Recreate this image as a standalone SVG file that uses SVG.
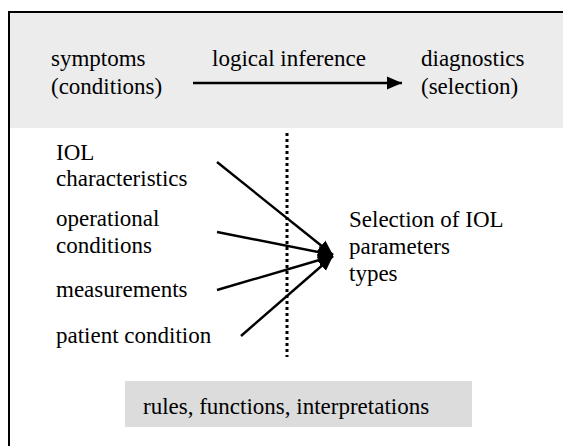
<svg xmlns="http://www.w3.org/2000/svg" width="563" height="446" viewBox="0 0 563 446">
<style>
text{font-family:"Liberation Serif","Times New Roman",serif;font-size:23px;fill:#000}
.ln{stroke:#000;stroke-width:2.4;fill:none}
</style>
<defs>
<marker id="ah" markerUnits="userSpaceOnUse" markerWidth="16" markerHeight="14" refX="15" refY="7" orient="auto">
<path d="M0,0.5 L15,7 L0,13.5 Z" fill="#000"/>
</marker>
</defs>
<rect x="0" y="0" width="563" height="446" fill="#fff"/>
<g id="frame">
<rect x="9" y="12" width="554" height="116" fill="#ececec"/>
<path d="M9,447 V12 H563" stroke="#000" stroke-width="2" fill="none"/>
</g>
<g id="symptoms"><text x="51" y="66">symptoms</text><text x="51" y="94">(conditions)</text></g>
<g id="diagnostics"><text x="421" y="66">diagnostics</text><text x="421" y="94">(selection)</text></g>
<g id="inference-label"><text x="212" y="66">logical inference</text></g>
<g id="iol"><text x="56" y="160">IOL</text><text x="56" y="186">characteristics</text></g>
<g id="operational"><text x="56" y="226">operational</text><text x="56" y="253">conditions</text></g>
<g id="measurements"><text x="56" y="297">measurements</text></g>
<g id="patient"><text x="56" y="343">patient condition</text></g>
<g id="selection"><text x="349" y="227">Selection of IOL</text><text x="349" y="254">parameters</text><text x="349" y="281">types</text></g>
<g id="rules"><rect x="125" y="381" width="347" height="46" fill="#dcdcdc"/><text x="143" y="414">rules, functions, interpretations</text></g>
<g id="connectors">
<line class="ln" x1="193" y1="83" x2="402" y2="83" marker-end="url(#ah)"/>
<line x1="287" y1="133" x2="287" y2="357" stroke="#000" stroke-width="3" stroke-dasharray="3,3"/>
<line class="ln" x1="217" y1="162" x2="333" y2="255" marker-end="url(#ah)"/>
<line class="ln" x1="217" y1="232" x2="333" y2="255" marker-end="url(#ah)"/>
<line class="ln" x1="217" y1="290" x2="333" y2="256" marker-end="url(#ah)"/>
<line class="ln" x1="241" y1="336" x2="333" y2="256" marker-end="url(#ah)"/>
</g>
</svg>
